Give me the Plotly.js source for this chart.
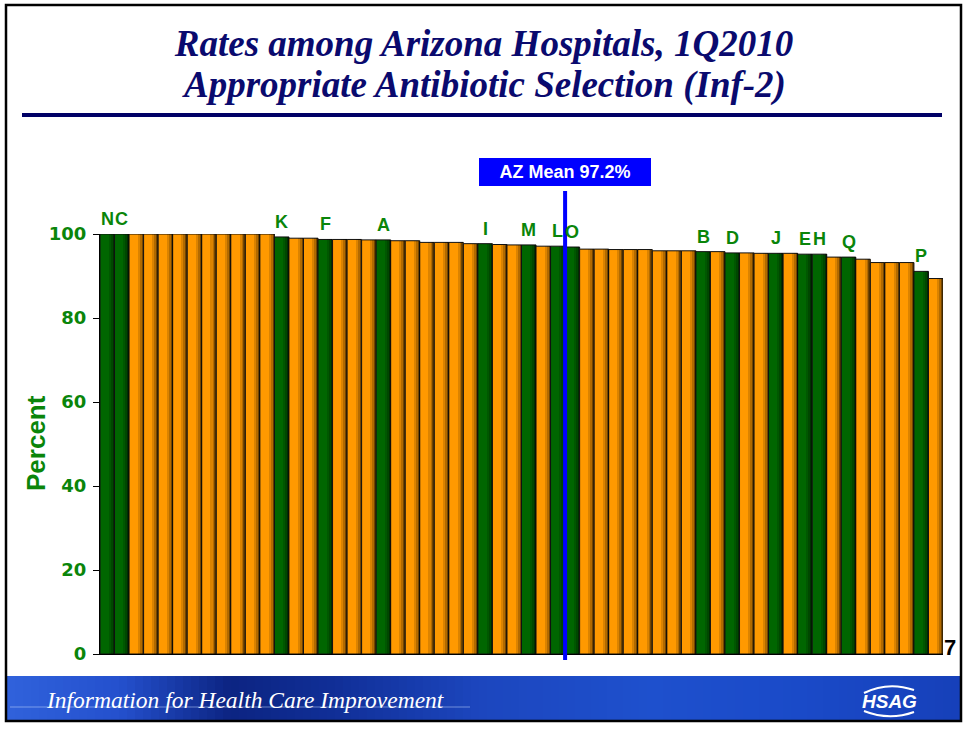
<!DOCTYPE html>
<html>
<head>
<meta charset="utf-8">
<script src="https://cdn.plot.ly/plotly-3.0.1.min.js"></script>
<style>
  body { margin: 0; background: #fff; }
  #chart { width: 968px; height: 729px; }
</style>
</head>
<body>
<div id="chart"></div>
<script>
// Tasa por hospital, ordenada de mayor a menor (lectura del gráfico)
const rates = [
  100, 100, 100, 100, 100, 100, 100, 100, 100, 100, 100, 100,
  99.3, 99.0, 99.0, 98.7, 98.7, 98.7, 98.6, 98.6, 98.4, 98.4,
  98.0, 98.0, 98.0, 97.7, 97.7, 97.5, 97.4, 97.4, 97.1, 97.1,
  96.9, 96.4, 96.4, 96.3, 96.3, 96.3, 96.0, 96.0, 96.0, 95.8,
  95.8, 95.5, 95.5, 95.4, 95.4, 95.4, 95.2, 95.2, 94.5, 94.5,
  94.0, 93.2, 93.2, 93.2, 91.1, 89.4
];

// Letra del hospital destacado ('' = hospital no destacado)
const hospitals = [
  'N', 'C', '', '', '', '', '', '', '', '', '', '',
  'K', '', '', 'F', '', '', '', 'A', '', '',
  '', '', '', '', 'I', '', '', 'M', '', 'L',
  'O', '', '', '', '', '', '', '', '', 'B',
  '', 'D', '', '', 'J', '', 'E', 'H', '', 'Q',
  '', '', '', '', 'P', ''
];

const yTicks = [0, 20, 40, 60, 80, 100];
const azMean = 97.2;
const meanPos = 31.5;   // posición de la línea de la media entre barras

const GREEN = '#006600';
const ORANGE = '#ff9900';
const LABEL_GREEN = '#0a850a';
const NAVY = '#0a0a6e';
const SANS = 'Liberation Sans, Arial, sans-serif';
const SERIF = 'Liberation Serif, Times New Roman, serif';

// geometría de la página (para adornos en coordenadas "paper")
const W = 968, H = 729;
const M = { l: 100, r: 25, t: 234, b: 75 };
const plotW = W - M.l - M.r, plotH = H - M.t - M.b;
const px = x => (x - M.l) / plotW;
const py = y => (H - M.b - y) / plotH;

const idx = rates.map((v, i) => i);
const colors = hospitals.map(h => h ? GREEN : ORANGE);

const bars = {
  type: 'bar',
  x: idx,
  y: rates,
  width: 1,
  marker: { color: colors, line: { color: '#111', width: 1 } },
  hoverinfo: 'y'
};

// sombreado tipo cilindro (franjas oscuras a la derecha de cada barra)
function shade(offset, width, alpha) {
  return {
    type: 'bar', x: idx, y: rates, offset: offset, width: width,
    marker: { color: 'rgba(0,0,0,' + alpha + ')', line: { width: 0 } },
    hoverinfo: 'skip'
  };
}
const shading = [
  shade(0.10, 0.14, 0.14),
  shade(0.24, 0.13, 0.30),
  shade(0.37, 0.12, 0.55)
];

// etiquetas de letras sobre las barras verdes
const annotations = [];
hospitals.forEach((h, i) => {
  if (!h) return;
  annotations.push({
    x: i, y: rates[i], xref: 'x', yref: 'y',
    text: h, showarrow: false, xanchor: 'center', yanchor: 'bottom', yshift: 3,
    font: { family: SANS, size: 18, color: LABEL_GREEN, weight: 'bold' }
  });
});

// caja "AZ Mean"
annotations.push({
  x: meanPos, xref: 'x', y: py(172), yref: 'paper',
  xanchor: 'center', yanchor: 'middle',
  text: 'AZ Mean ' + azMean + '%', showarrow: false,
  bgcolor: '#0000ff', bordercolor: '#0000ff', borderwidth: 1,
  width: 166, height: 22, borderpad: 2,
  font: { family: SANS, size: 18, color: '#fff', weight: 'bold' }
});

// segunda línea del título
annotations.push({
  x: px(W / 2), xref: 'paper', y: py(85), yref: 'paper',
  xanchor: 'center', yanchor: 'middle', showarrow: false,
  text: 'Appropriate Antibiotic Selection (Inf-2)',
  font: { family: SERIF, size: 37, color: NAVY, weight: 'bold', style: 'italic' }
});

// título del eje Y
annotations.push({
  x: px(36), xref: 'paper', y: py(443), yref: 'paper',
  xanchor: 'center', yanchor: 'middle', showarrow: false, textangle: -90,
  text: 'Percent',
  font: { family: SANS, size: 26, color: LABEL_GREEN, weight: 'bold' }
});

// número de diapositiva
annotations.push({
  x: px(950), y: py(647), xref: 'paper', yref: 'paper',
  xanchor: 'center', yanchor: 'middle',
  text: '7', showarrow: false,
  font: { family: SANS, size: 22, color: '#000', weight: 'bold' }
});

// texto del pie
annotations.push({
  x: px(44), y: py(700), xref: 'paper', yref: 'paper',
  xanchor: 'left', yanchor: 'middle',
  text: 'Information for Health Care Improvement', showarrow: false,
  font: { family: SERIF, size: 23.5, color: '#fff', style: 'italic' }
});
annotations.push({
  x: px(889), y: py(701), xref: 'paper', yref: 'paper',
  xanchor: 'center', yanchor: 'middle',
  text: 'HSAG', showarrow: false,
  font: { family: SANS, size: 19, color: '#fff', weight: 'bold', style: 'italic' }
});

const shapes = [];

// banda azul del pie (degradado aproximado con franjas)
const stops = [
  [7, [48, 98, 220]], [120, [36, 80, 205]], [230, [12, 36, 130]],
  [330, [16, 46, 150]], [480, [28, 70, 190]], [650, [30, 80, 205]],
  [800, [26, 74, 200]], [961, [22, 64, 185]]
];
function colAt(x) {
  for (let k = 0; k < stops.length - 1; k++) {
    const a = stops[k], b = stops[k + 1];
    if (x <= b[0]) {
      const t = (x - a[0]) / (b[0] - a[0]);
      const c = a[1].map((v, j) => Math.round(v + (b[1][j] - v) * t));
      return 'rgb(' + c.join(',') + ')';
    }
  }
  return 'rgb(22,64,185)';
}
for (let x = 7; x < 961; x += 8) {
  shapes.push({
    type: 'rect', xref: 'paper', yref: 'paper', layer: 'below',
    x0: px(x), x1: px(Math.min(x + 8.5, 961)), y0: py(721), y1: py(676),
    fillcolor: colAt(x + 4), line: { width: 0 }
  });
}
// línea fina clara del pie
shapes.push({
  type: 'line', xref: 'paper', yref: 'paper', layer: 'below',
  x0: px(10), x1: px(470), y0: py(707), y1: py(707),
  line: { color: 'rgba(200,220,255,0.5)', width: 1 }
});
// arcos del logo HSAG
shapes.push({
  type: 'path', xref: 'paper', yref: 'paper',
  path: 'M ' + px(864) + ',' + py(693) + ' Q ' + px(888) + ',' + py(681) + ' ' + px(914) + ',' + py(690),
  line: { color: '#fff', width: 2 }
});
shapes.push({
  type: 'path', xref: 'paper', yref: 'paper',
  path: 'M ' + px(864) + ',' + py(711) + ' Q ' + px(889) + ',' + py(721) + ' ' + px(914) + ',' + py(712),
  line: { color: '#fff', width: 2 }
});

// regla azul bajo el título
shapes.push({
  type: 'line', xref: 'paper', yref: 'paper',
  x0: px(22), x1: px(942), y0: py(115), y1: py(115),
  line: { color: '#000066', width: 4 }
});

// marco de la diapositiva
shapes.push({
  type: 'rect', xref: 'paper', yref: 'paper',
  x0: px(6), x1: px(961), y0: py(721), y1: py(5),
  line: { color: '#000', width: 2.5 }
});

// línea de la media
shapes.push({
  type: 'line', xref: 'x', yref: 'paper',
  x0: meanPos, x1: meanPos, y0: py(660), y1: py(191),
  line: { color: '#0000ff', width: 4 }
});

const layout = {
  width: W, height: H,
  margin: M,
  paper_bgcolor: '#fff',
  plot_bgcolor: 'rgba(0,0,0,0)',
  showlegend: false,
  barmode: 'overlay',
  bargap: 0,
  title: {
    text: 'Rates among Arizona Hospitals, 1Q2010',
    x: 0.5, xref: 'container', xanchor: 'center',
    y: 1 - 43 / H, yref: 'container', yanchor: 'middle',
    font: { family: SERIF, size: 37, color: NAVY, weight: 'bold', style: 'italic' }
  },
  xaxis: {
    range: [-0.5, rates.length - 0.5],
    showticklabels: false, ticks: '', showgrid: false, zeroline: false,
    showline: true, linecolor: '#000', linewidth: 1,
    fixedrange: true
  },
  yaxis: {
    range: [0, 100],
    tickvals: yTicks,
    ticks: 'outside', ticklen: 6, tickcolor: '#000', tickwidth: 1,
    ticklabelstandoff: 3,
    showline: true, linecolor: '#000', linewidth: 1,
    showgrid: false, zeroline: false,
    tickfont: { family: 'DejaVu Sans, Verdana, sans-serif', size: 18, color: LABEL_GREEN, weight: 'bold' },
    fixedrange: true
  },
  annotations: annotations,
  shapes: shapes
};

Plotly.newPlot('chart', [bars].concat(shading), layout, { displayModeBar: false, staticPlot: true });
</script>
</body>
</html>
